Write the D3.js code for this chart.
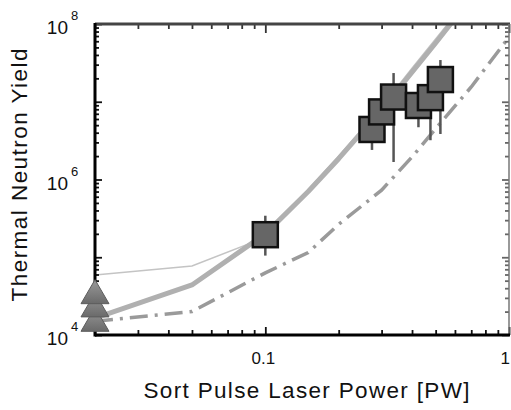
<!DOCTYPE html>
<html>
<head>
<meta charset="utf-8">
<script src="https://cdn.jsdelivr.net/npm/d3@7"></script>
<style>
  body { margin: 0; background: #fff; }
  svg { display: block; font-family: "Liberation Sans", Arial, sans-serif; }
</style>
</head>
<body>
<div id="chart"></div>
<script>
var width = 511, height = 410;

// model curves (power in PW, yield)
var modelPower = [0.02, 0.05, 0.1, 0.15, 0.2, 0.3, 0.4, 0.5, 0.6];
var thickYield = [1.65e4, 4.4e4, 2.0e5, 7.0e5, 1.85e6, 7.9e6, 2.4e7, 5.7e7, 1.18e8];
var thinYield = [5.9e4, 7.7e4, 1.8e5, 7.4e5, 2.0e6, 8.6e6, 2.7e7, 6.4e7, 1.3e8];

var dashPower = [0.02, 0.05, 0.1, 0.15, 0.2, 0.3, 0.4, 0.5, 0.7, 1.0];
var dashYield = [1.5e4, 2.0e4, 6.3e4, 1.15e5, 2.65e5, 7.3e5, 1.95e6, 4.5e6, 1.55e7, 6.8e7];

// measured points with error bars
var expPower = [0.1, 0.274, 0.30, 0.336, 0.425, 0.476, 0.523];
var expYield = [1.95e5, 4.4e6, 7.4e6, 1.15e7, 8.95e6, 1.13e7, 1.93e7];
var expLow = [1.05e5, 2.4e6, 5.5e6, 1.68e6, 4.7e6, 3.2e6, 3.85e6];
var expHigh = [3.42e5, 5.5e6, 1.0e7, 2.34e7, 1.1e7, 1.4e7, 3.44e7];

// triangles on the left edge
var triPower = [0.02, 0.02, 0.02];
var triYield = [1.5e4, 2.3e4, 3.4e4];

var xMajor = [0.1, 1];
var xMinor = [0.02, 0.03, 0.04, 0.05, 0.06, 0.07, 0.08, 0.09, 0.2, 0.3, 0.4, 0.5, 0.6, 0.7, 0.8, 0.9];
var yMajor = [1e4, 1e5, 1e6, 1e7, 1e8];
var yLabelExp = [4, 6, 8];
var yMinor = [];
[1e4, 1e5, 1e6, 1e7].forEach(function (d) {
    for (var k = 2; k <= 9; k++) yMinor.push(d * k);
});

var plotLeft = 95, plotRight = 509, plotTop = 24, plotBottom = 335;

var x = d3.scaleLog().domain([0.02, 1]).range([plotLeft, plotRight]);
var y = d3.scaleLog().domain([1e4, 1e8]).range([plotBottom, plotTop]);

var svg = d3.select('#chart').append('svg')
    .attr('width', width)
    .attr('height', height);

var defs = svg.append('defs');
defs.append('clipPath').attr('id', 'plot')
    .append('rect')
    .attr('x', plotLeft).attr('y', plotTop)
    .attr('width', plotRight - plotLeft).attr('height', plotBottom - plotTop);

var grad = defs.append('linearGradient').attr('id', 'triGrad')
    .attr('x1', 0).attr('y1', 0).attr('x2', 0).attr('y2', 1);
grad.append('stop').attr('offset', '0%').attr('stop-color', '#9a9a9a');
grad.append('stop').attr('offset', '100%').attr('stop-color', '#6a6a6a');

var line = d3.line()
    .x(function (d) { return x(d[0]); })
    .y(function (d) { return y(d[1]); });

var curves = svg.append('g').attr('clip-path', 'url(#plot)');

curves.append('path')
    .datum(d3.zip(modelPower, thinYield))
    .attr('d', line)
    .attr('fill', 'none')
    .attr('stroke', '#c4c4c4')
    .attr('stroke-width', 1.6);

curves.append('path')
    .datum(d3.zip(modelPower, thickYield))
    .attr('d', line)
    .attr('fill', 'none')
    .attr('stroke', '#b0b0b0')
    .attr('stroke-width', 5)
    .attr('stroke-linejoin', 'round');

curves.append('path')
    .datum(d3.zip(dashPower, dashYield))
    .attr('d', line)
    .attr('fill', 'none')
    .attr('stroke', '#9a9a9a')
    .attr('stroke-width', 3.5)
    .attr('stroke-dasharray', '18,7,3,7');

// axes: ticks point inward on all four sides
function tickAxis(axis, vals, size, color) {
    return function (g) {
        g.call(axis.tickValues(vals).tickSize(size).tickFormat(''));
        g.select('.domain').remove();
        g.selectAll('.tick line').attr('stroke', color).attr('stroke-width', 1.8);
    };
}

svg.append('g').attr('transform', 'translate(0,' + plotBottom + ')')
    .call(tickAxis(d3.axisBottom(x), xMinor, -5, '#111'));
svg.append('g').attr('transform', 'translate(0,' + plotBottom + ')')
    .call(tickAxis(d3.axisBottom(x), xMajor, -8, '#111'));
svg.append('g').attr('transform', 'translate(0,' + plotTop + ')')
    .call(tickAxis(d3.axisTop(x), xMinor, -5, '#333'));
svg.append('g').attr('transform', 'translate(0,' + plotTop + ')')
    .call(tickAxis(d3.axisTop(x), xMajor, -9, '#333'));
svg.append('g').attr('transform', 'translate(' + plotLeft + ',0)')
    .call(tickAxis(d3.axisLeft(y), yMinor, -4, '#111'));
svg.append('g').attr('transform', 'translate(' + plotLeft + ',0)')
    .call(tickAxis(d3.axisLeft(y), yMajor, -7, '#111'));
svg.append('g').attr('transform', 'translate(' + plotRight + ',0)')
    .call(tickAxis(d3.axisRight(y), yMinor, -4, '#666'));
svg.append('g').attr('transform', 'translate(' + plotRight + ',0)')
    .call(tickAxis(d3.axisRight(y), yMajor, -7, '#666'));

// frame
svg.append('line').attr('x1', plotLeft).attr('x2', plotRight + 1).attr('y1', plotTop).attr('y2', plotTop)
    .attr('stroke', '#444').attr('stroke-width', 3);
svg.append('line').attr('x1', plotRight).attr('x2', plotRight).attr('y1', plotTop).attr('y2', plotBottom)
    .attr('stroke', '#777').attr('stroke-width', 1.5);
svg.append('line').attr('x1', plotLeft).attr('x2', plotRight + 1).attr('y1', plotBottom).attr('y2', plotBottom)
    .attr('stroke', '#000').attr('stroke-width', 3);
svg.append('line').attr('x1', plotLeft).attr('x2', plotLeft).attr('y1', plotTop - 1).attr('y2', plotBottom + 1.5)
    .attr('stroke', '#000').attr('stroke-width', 3);

// error bars first, squares on top
var pts = expPower.map(function (p, i) {
    return { p: p, v: expYield[i], lo: expLow[i], hi: expHigh[i] };
});

svg.append('g').selectAll('line')
    .data(pts)
    .join('line')
    .attr('x1', function (d) { return x(d.p); })
    .attr('x2', function (d) { return x(d.p); })
    .attr('y1', function (d) { return y(d.lo); })
    .attr('y2', function (d) { return y(d.hi); })
    .attr('stroke', '#555')
    .attr('stroke-width', 2.5);

var box = 25;
svg.append('g').selectAll('rect')
    .data(pts)
    .join('rect')
    .attr('x', function (d) { return x(d.p) - box / 2; })
    .attr('y', function (d) { return y(d.v) - box / 2; })
    .attr('width', box)
    .attr('height', box)
    .attr('fill', '#666')
    .attr('stroke', '#111')
    .attr('stroke-width', 2.5);

// triangles (bottom one drawn first)
svg.append('g').selectAll('path')
    .data(d3.zip(triPower, triYield))
    .join('path')
    .attr('transform', function (d) { return 'translate(' + x(d[0]) + ',' + y(d[1]) + ')'; })
    .attr('d', 'M0,-14L14,10L-14,10Z')
    .attr('fill', 'url(#triGrad)')
    .attr('stroke', '#5c5c5c')
    .attr('stroke-width', 1);

// tick labels ("1" pushed against the right edge)
svg.append('g').selectAll('text')
    .data(xMajor)
    .join('text')
    .attr('x', function (d) { return d === 1 ? width - 1 : x(d) - 2; })
    .attr('y', 364)
    .attr('text-anchor', function (d) { return d === 1 ? 'end' : 'middle'; })
    .attr('font-size', 17)
    .attr('fill', '#111')
    .text(function (d) { return d; });

var yl = svg.append('g').selectAll('g')
    .data(yLabelExp)
    .join('g')
    .attr('transform', function (d) { return 'translate(0,' + y(Math.pow(10, d)) + ')'; });
yl.append('text')
    .attr('x', 68).attr('y', 10)
    .attr('text-anchor', 'end')
    .attr('font-size', 19)
    .attr('fill', '#111')
    .text('10');
yl.append('text')
    .attr('x', 71).attr('y', -4)
    .attr('font-size', 13)
    .attr('fill', '#111')
    .text(function (d) { return d; });

// axis titles
svg.append('text')
    .attr('x', 306.5).attr('y', 398)
    .attr('text-anchor', 'middle')
    .attr('font-size', 22.5)
    .attr('textLength', 326)
    .attr('lengthAdjust', 'spacing')
    .attr('fill', '#111')
    .text('Sort Pulse Laser Power [PW]');

svg.append('text')
    .attr('transform', 'translate(27,175) rotate(-90)')
    .attr('text-anchor', 'middle')
    .attr('font-size', 22.5)
    .attr('textLength', 253)
    .attr('lengthAdjust', 'spacing')
    .attr('fill', '#111')
    .text('Thermal Neutron Yield');
</script>
</body>
</html>
